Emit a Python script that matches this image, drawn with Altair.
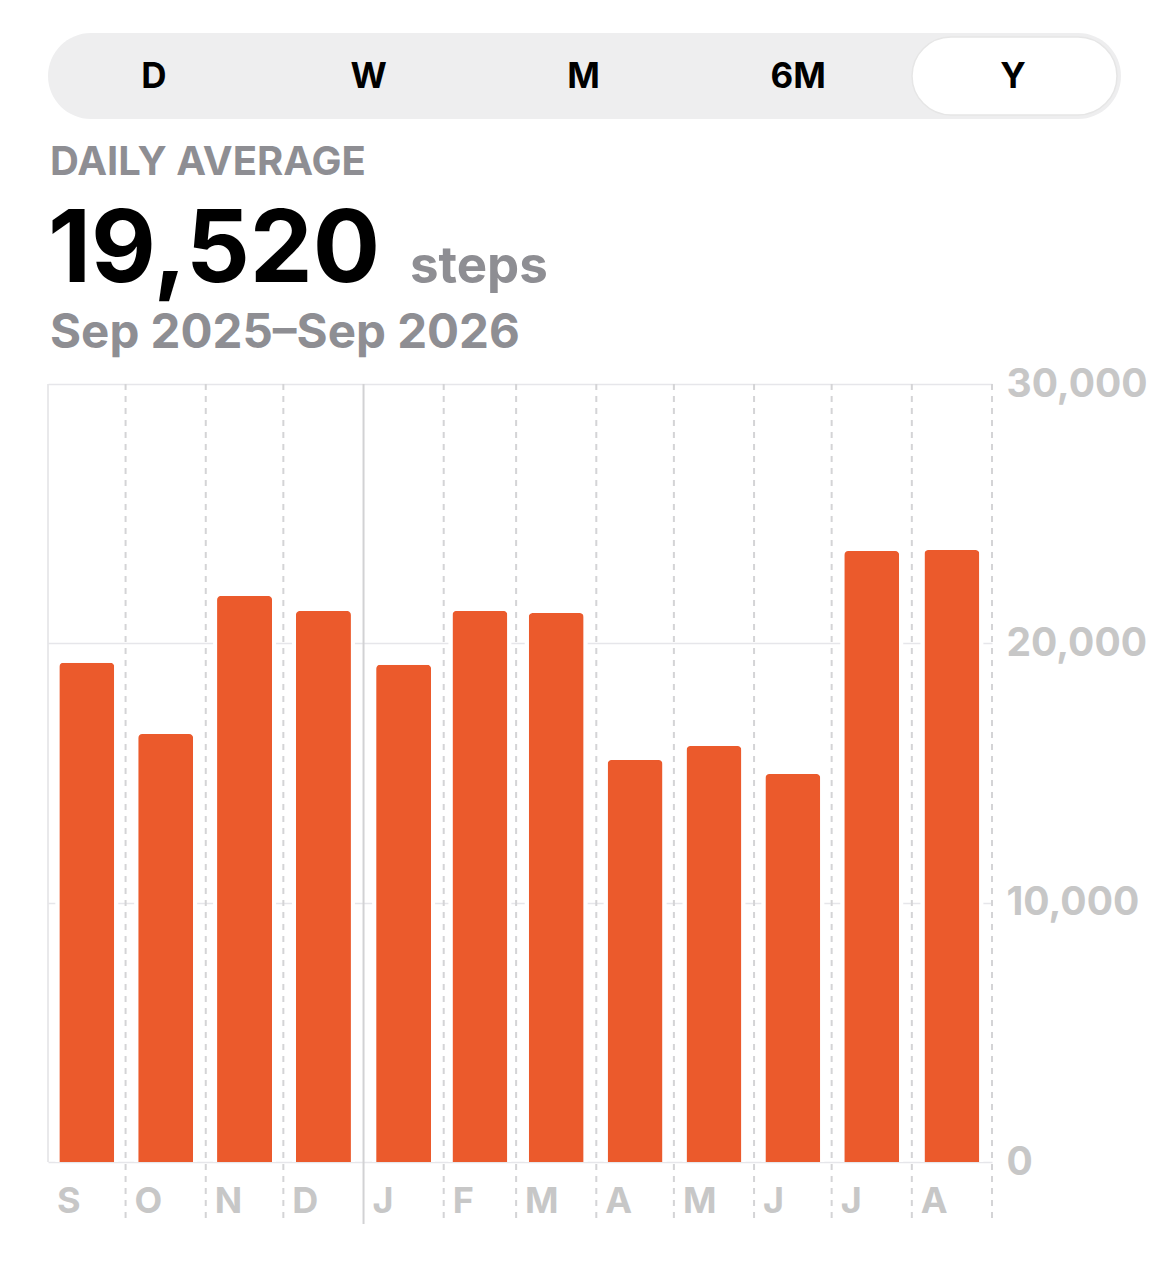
import altair as alt
import pandas as pd

# ---- data ----
month_letters = ["S", "O", "N", "D", "J", "F", "M", "A", "M", "J", "J", "A"]
month_starts = ["2025-09-01", "2025-10-01", "2025-11-01", "2025-12-01",
                "2026-01-01", "2026-02-01", "2026-03-01", "2026-04-01",
                "2026-05-01", "2026-06-01", "2026-07-01", "2026-08-01"]
range_end = "2026-09-01"
daily_steps = [19250, 16500, 21830, 21250, 19170, 21250,
               21170, 15500, 16040, 14960, 23560, 23600]
y_ticks = [0, 10000, 20000, 30000]
tabs = ["D", "W", "M", "6M", "Y"]
header_label = "DAILY AVERAGE"
header_value = "19,520"
header_unit = "steps"
header_range = "Sep 2025\u2013Sep 2026"

# ---- tables ----
starts = pd.to_datetime(month_starts)
ends = pd.to_datetime(month_starts[1:] + [range_end])
months = pd.DataFrame({
    "start": starts,
    "mid": starts + (ends - starts) / 2,
    "steps": daily_steps,
    "letter": month_letters,
})
inner_bounds = pd.DataFrame({"d": pd.to_datetime(month_starts[1:] + [range_end])})
left_bound = pd.DataFrame({"d": pd.to_datetime(month_starts[:1])})
tab_df = pd.DataFrame({"tab": tabs, "i": list(range(len(tabs)))})

W, H = 944, 778
FONT = "Inter"
GRAY = "#8E8E93"
LIGHT = "#C7C7C7"
ORANGE = "#EB5A2C"

xs = alt.Scale(domain=[alt.DateTime(year=2025, month=9, date=1),
                       alt.DateTime(year=2026, month=9, date=1)], padding=0)
ys = alt.Scale(domain=[0, 30000], nice=False, zero=True)
yaxis = alt.Axis(orient="right", values=y_ticks, format=",.0f", title=None,
                 labelFontSize=39, labelColor=LIGHT, labelFont=FONT,
                 labelFontWeight="bold", labelPadding=14, ticks=False,
                 domain=False, grid=True, gridColor="#E6E6EA", gridWidth=1.5)

X = lambda f: alt.X(f, type="temporal", scale=xs, axis=None)

dashed = alt.Chart(inner_bounds).mark_rule(strokeWidth=2).encode(
    x=X("d"),
    y=alt.value(0), y2=alt.value(840),
    color=alt.condition("month(datum.d) == 0", alt.value("#D2D2D4"), alt.value("#D4D4D6")),
    strokeDash=alt.condition("month(datum.d) == 0", alt.value([1, 0]), alt.value([6, 6])),
)
left = alt.Chart(left_bound).mark_rule(strokeWidth=1.5, color="#E2E2E4").encode(
    x=X("d"), y=alt.value(0), y2=alt.value(H),
)

halo = alt.Chart(months).mark_bar(width=63, color="white").encode(
    x=X("mid"), y=alt.Y("steps:Q", scale=ys, axis=yaxis),
)
bars = alt.Chart(months).mark_bar(width=55, color=ORANGE,
                                  cornerRadiusTopLeft=4, cornerRadiusTopRight=4).encode(
    x=X("mid"), y=alt.Y("steps:Q", scale=ys, axis=yaxis),
)
mlabels = alt.Chart(months).mark_text(align="left", baseline="middle", dx=9,
                                      font=FONT, fontSize=36, fontWeight="bold",
                                      color=LIGHT).encode(
    x=X("start"), y=alt.value(818), text="letter:N",
)

one = pd.DataFrame({"k": [0]})
seg_bg = alt.Chart(one).mark_rect(cornerRadius=43, color="#EEEEEF").encode(
    x=alt.value(0), x2=alt.value(1073), y=alt.value(-351), y2=alt.value(-265),
)
seg_sel = alt.Chart(one).mark_rect(cornerRadius=39, color="white",
                                   stroke="#E6E6E6", strokeWidth=1.5).encode(
    x=alt.value(864), x2=alt.value(1069), y=alt.value(-347), y2=alt.value(-269),
)
seg_txt = alt.Chart(tab_df).mark_text(baseline="middle", align="center",
                                      font=FONT, fontSize=35, fontWeight="bold",
                                      color="black").encode(
    x=alt.X("i:Q", scale=alt.Scale(domain=[0, len(tabs) - 1], range=[106, 965]),
            axis=None),
    y=alt.value(-307), text="tab:N",
)

def txt(s, x, y, size, color, weight="bold"):
    return alt.Chart(pd.DataFrame({"t": [s]})).mark_text(
        align="left", baseline="alphabetic", font=FONT, fontSize=size,
        fontWeight=weight, color=color).encode(
        x=alt.value(x), y=alt.value(y), text="t:N")

h1 = txt(header_label, 2, -209, 40, GRAY)
h2 = txt(header_value, 0, -102, 100, "black")
h3 = txt(header_unit, 362, -101, 51, GRAY)
h4 = txt(header_range, 2, -36, 47.5, GRAY)

chart = alt.layer(dashed, left, halo, bars, mlabels,
                  seg_bg, seg_sel, seg_txt, h1, h2, h3, h4).resolve_scale(
    x="independent", y="shared"
).properties(
    width=W, height=H,
    autosize=alt.AutoSizeParams(type="none"),
    padding={"left": 40, "top": 376, "right": 170, "bottom": 100},
    background="white",
).configure_view(stroke=None)

chart.save("out.html", embed_options={"renderer": "svg", "actions": False})
